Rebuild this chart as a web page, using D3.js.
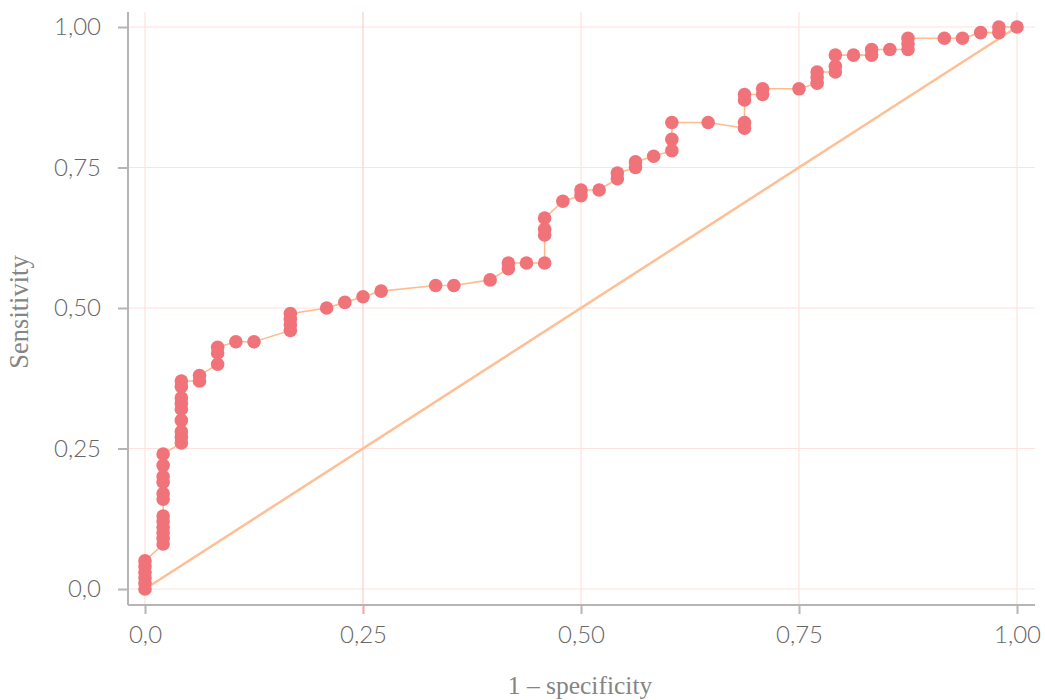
<!DOCTYPE html>
<html>
<head>
<meta charset="utf-8">
<script src="https://cdn.jsdelivr.net/npm/d3@7"></script>
<style>
  html, body { margin: 0; padding: 0; background: #ffffff; }
  svg { display: block; }
  .tick-label { font-family: Lato, "Open Sans", sans-serif; font-weight: 300; fill: #666666; }
  .axis-title { font-family: "Liberation Serif", "DejaVu Serif", serif; fill: #858585; }
</style>
</head>
<body>
<svg id="chart" width="1045" height="700"></svg>
<script>
// ROC curve: false positive rate (1 - specificity) vs. true positive rate (sensitivity)
const fpr = [
  0, 0, 0, 0, 0, 0,
  0.0208, 0.0208, 0.0208, 0.0208, 0.0208, 0.0208, 0.0208, 0.0208, 0.0208, 0.0208, 0.0208, 0.0208,
  0.0417, 0.0417, 0.0417, 0.0417, 0.0417, 0.0417, 0.0417, 0.0417, 0.0417,
  0.0625, 0.0625,
  0.0833, 0.0833, 0.0833,
  0.1042,
  0.125,
  0.1667, 0.1667, 0.1667, 0.1667,
  0.2083,
  0.2292,
  0.25,
  0.2708,
  0.3333,
  0.3542,
  0.3958,
  0.4167, 0.4167,
  0.4375,
  0.4583, 0.4583, 0.4583, 0.4583,
  0.4792,
  0.5, 0.5,
  0.5208,
  0.5417, 0.5417,
  0.5625, 0.5625,
  0.5833,
  0.6042, 0.6042, 0.6042,
  0.6458,
  0.6875, 0.6875, 0.6875, 0.6875,
  0.7083, 0.7083,
  0.75,
  0.7708, 0.7708, 0.7708,
  0.7917, 0.7917, 0.7917,
  0.8125,
  0.8333, 0.8333,
  0.8542,
  0.875, 0.875, 0.875,
  0.9167,
  0.9375,
  0.9583,
  0.9792, 0.9792,
  1
];
const tpr = [
  0, 0.01, 0.02, 0.03, 0.04, 0.05,
  0.08, 0.09, 0.10, 0.11, 0.12, 0.13, 0.16, 0.17, 0.19, 0.20, 0.22, 0.24,
  0.26, 0.27, 0.28, 0.30, 0.32, 0.33, 0.34, 0.36, 0.37,
  0.37, 0.38,
  0.40, 0.42, 0.43,
  0.44,
  0.44,
  0.46, 0.47, 0.48, 0.49,
  0.50,
  0.51,
  0.52,
  0.53,
  0.54,
  0.54,
  0.55,
  0.57, 0.58,
  0.58,
  0.58, 0.63, 0.64, 0.66,
  0.69,
  0.70, 0.71,
  0.71,
  0.73, 0.74,
  0.75, 0.76,
  0.77,
  0.78, 0.80, 0.83,
  0.83,
  0.82, 0.83, 0.87, 0.88,
  0.88, 0.89,
  0.89,
  0.90, 0.91, 0.92,
  0.92, 0.93, 0.95,
  0.95,
  0.95, 0.96,
  0.96,
  0.96, 0.97, 0.98,
  0.98,
  0.98,
  0.99,
  0.99, 1.00,
  1.00
];
// chance line endpoints
const chanceX = [0, 1];
const chanceY = [0, 1];
// axis ticks and their labels
const tickValues = [0, 0.25, 0.5, 0.75, 1];
const tickLabels = ["0,0", "0,25", "0,50", "0,75", "1,00"];
const xTitle = "1 \u2013 specificity";
const yTitle = "Sensitivity";

const points = fpr.map((x, i) => ({ x, y: tpr[i] }));

const svg = d3.select("#chart");
const x = d3.scaleLinear().domain([0, 1]).range([145, 1017]);
const y = d3.scaleLinear().domain([0, 1]).range([589, 27]);

const plotLeft = 128, plotRight = 1035, plotTop = 12, plotBottom = 605;
const gridColor = "#fde2dd";
const axisColor = "#b5b5b5";
const fmt = d => tickLabels[tickValues.indexOf(d)];

// gridlines
svg.append("g").selectAll("line.hgrid").data(tickValues).join("line")
  .attr("x1", plotLeft).attr("x2", plotRight)
  .attr("y1", d => y(d)).attr("y2", d => y(d))
  .attr("stroke", gridColor).attr("stroke-width", 1.2);
svg.append("g").selectAll("line.vgrid").data(tickValues).join("line")
  .attr("x1", d => x(d)).attr("x2", d => x(d))
  .attr("y1", plotTop).attr("y2", plotBottom)
  .attr("stroke", d => d === 0.25 ? "#fbcfc8" : gridColor).attr("stroke-width", 1.2);

// x axis
const xAxis = svg.append("g")
  .attr("transform", `translate(0,${plotBottom})`)
  .call(d3.axisBottom(x).tickValues(tickValues).tickFormat(fmt).tickSize(9).tickPadding(12));
xAxis.select(".domain").remove();
xAxis.append("line").attr("x1", plotLeft).attr("x2", plotRight).attr("y1", 0).attr("y2", 0)
  .attr("stroke", axisColor).attr("stroke-width", 2);
xAxis.selectAll(".tick line").attr("stroke", d => d === 0.25 ? "#f7a39a" : axisColor).attr("stroke-width", 2);
xAxis.selectAll(".tick text").attr("class", "tick-label").attr("font-size", 24).attr("fill", "#666");

// y axis
const yAxis = svg.append("g")
  .attr("transform", `translate(${plotLeft},0)`)
  .call(d3.axisLeft(y).tickValues(tickValues).tickFormat(fmt).tickSize(10).tickPadding(17));
yAxis.select(".domain").remove();
yAxis.append("line").attr("x1", 0).attr("x2", 0).attr("y1", plotTop).attr("y2", plotBottom)
  .attr("stroke", axisColor).attr("stroke-width", 2);
yAxis.selectAll(".tick line").attr("stroke", axisColor).attr("stroke-width", 2);
yAxis.selectAll(".tick text").attr("class", "tick-label").attr("font-size", 24).attr("fill", "#666");

// axis titles
svg.append("text").attr("class", "axis-title")
  .attr("x", x(0.5) - 1).attr("y", 694).attr("text-anchor", "middle")
  .attr("font-size", 25.5).text(xTitle);
svg.append("text").attr("class", "axis-title")
  .attr("transform", `translate(28,${y(0.5) + 4}) rotate(-90)`)
  .attr("text-anchor", "middle").attr("font-size", 26.5).text(yTitle);

// chance diagonal
svg.append("line")
  .attr("x1", x(chanceX[0])).attr("y1", y(chanceY[0]))
  .attr("x2", x(chanceX[1])).attr("y2", y(chanceY[1]))
  .attr("stroke", "#ffbf94").attr("stroke-width", 2.5);

// ROC path
svg.append("path").datum(points)
  .attr("fill", "none").attr("stroke", "#ffbc8f").attr("stroke-width", 1.6)
  .attr("d", d3.line().x(d => x(d.x)).y(d => y(d.y)));

// ROC points
svg.append("g").selectAll("circle").data(points).join("circle")
  .attr("cx", d => x(d.x)).attr("cy", d => y(d.y)).attr("r", 6.8)
  .attr("fill", "#f1737a");
</script>
</body>
</html>
